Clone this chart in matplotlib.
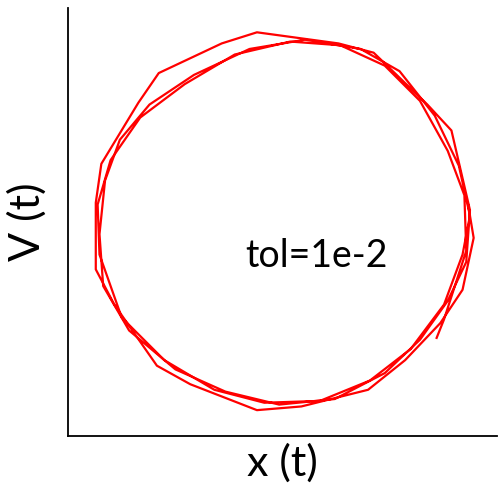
import matplotlib
matplotlib.use("Agg")
import matplotlib.pyplot as plt

plt.rcParams['font.family'] = ['Lato', 'DejaVu Sans']

# Phase-space trajectory of the oscillator solved with tol=1e-2 (solver steps)
x_t = [0.99, 1.02, 0.96, 0.84, 0.65, 0.45, 0.09, -0.15, -0.51, -0.69, -0.92, -1.02,
       -1.02, -0.99, -0.79, -0.68, -0.34, -0.15, 0.29, 0.48, 0.77, 0.90, 1.00,
       0.98, 0.88, 0.73, 0.54, 0.27, -0.03, -0.32, -0.59, -0.84, -0.98, -1.00,
       -0.97, -0.89, -0.73, -0.49, -0.19, 0.11, 0.41, 0.62, 0.81, 0.94, 1.00,
       0.96, 0.86, 0.68, 0.46, 0.19, -0.11, -0.38, -0.65, -0.88, -1.00, -1.01,
       -0.94, -0.78, -0.54, -0.27, 0.03, 0.30, 0.54, 0.73, 0.88, 0.97, 0.98,
       0.86, 0.82]
V_t = [0.10, -0.08, -0.36, -0.54, -0.74, -0.90, -0.99, -1.01, -0.87, -0.77, -0.44, -0.25,
       0.11, 0.32, 0.65, 0.81, 0.97, 1.03, 0.97, 0.92, 0.64, 0.50, 0.07,
       -0.21, -0.42, -0.63, -0.81, -0.95, -0.98, -0.91, -0.79, -0.58, -0.34, -0.06,
       0.23, 0.45, 0.64, 0.80, 0.94, 0.99, 0.94, 0.82, 0.58, 0.31, 0.04,
       -0.17, -0.44, -0.68, -0.85, -0.96, -0.97, -0.90, -0.74, -0.51, -0.17, 0.10,
       0.34, 0.57, 0.75, 0.91, 0.98, 0.96, 0.85, 0.66, 0.39, 0.15, -0.15,
       -0.52, -0.62]
annotation = "tol=1e-2"

fig = plt.figure(figsize=(5.0, 4.84), dpi=100)
ax = fig.add_axes([0.136, 0.099, 0.858, 0.884])
ax.plot(x_t, V_t, color='#ff0000', linewidth=1.6)

ax.set_xlim(-1.17, 1.146)
ax.set_ylim(-1.15, 1.16)
ax.set_xticks([])
ax.set_yticks([])
for side in ('top', 'right'):
    ax.spines[side].set_visible(False)
for side in ('left', 'bottom'):
    ax.spines[side].set_linewidth(1.3)
    ax.spines[side].set_color('black')

ax.text(0.17, -0.18, annotation, fontsize=27, ha='center', va='center')
ax.set_xlabel('x (t)', fontsize=31, labelpad=5)
ax.set_ylabel('V (t)', fontsize=31, labelpad=15)

fig.savefig('out.png', dpi=100)
